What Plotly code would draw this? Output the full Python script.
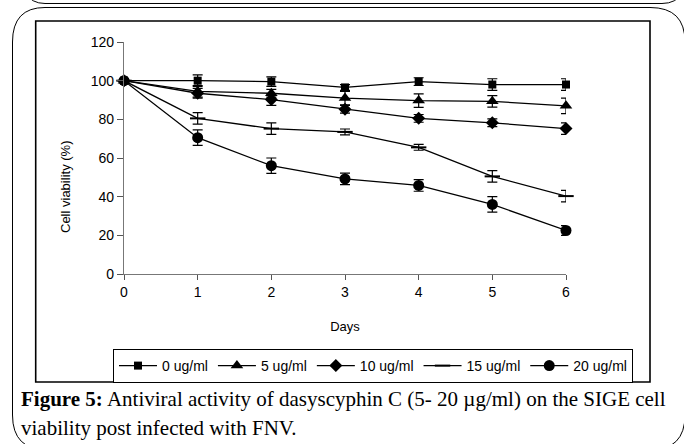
import plotly.graph_objects as go

days = [0, 1, 2, 3, 4, 5, 6]
series_names = ["0 ug/ml", "5 ug/ml", "10 ug/ml", "15 ug/ml", "20 ug/ml"]
v0 = [100, 100, 99.5, 96.5, 99.5, 98, 98]
v5 = [100, 94.5, 93.5, 91, 89.7, 89.3, 87]
v10 = [100, 93.5, 90.2, 85.2, 80.5, 78.2, 75.2]
v15 = [100, 80.5, 75.2, 73.5, 65.5, 50.5, 40.3]
v20 = [100, 70.5, 56, 49.2, 45.8, 36, 22.5]
e0 = [1, 3, 2.5, 1.5, 2, 3, 3]
e5 = [1, 3, 2, 3.5, 3.5, 3, 4]
e10 = [1, 2.5, 3, 2, 2, 2, 3]
e15 = [1, 3, 3, 1.5, 1.5, 3, 3]
e20 = [1, 4, 4, 3, 3, 4, 2.5]
values = [v0, v5, v10, v15, v20]
errors = [e0, e5, e10, e15, e20]
symbols = ["square", "triangle-up", "diamond", "line-ew", "circle"]
sizes = [8, 11, 10, 11, 11]

# plot area in pixels
L, R, T, B = 124, 566, 42, 274
W, H = 684, 444


def fx(x):
    return (x - L) / (R - L)


def fy(y):
    return (B - y) / (B - T)


fig = go.Figure()
for name, v, e, s, sz in zip(series_names, values, errors, symbols, sizes):
    fig.add_trace(go.Scatter(
        x=days, y=v, name=name, mode="lines+markers",
        line=dict(color="black", width=1.3),
        marker=dict(symbol=s, size=sz, color="black",
                    line=dict(color="black", width=2 if s == "line-ew" else 0)),
        error_y=dict(type="data", array=e, visible=True, color="black",
                     thickness=1.2, width=5),
        cliponaxis=False,
    ))

font = dict(family="Liberation Sans, Arial", size=14, color="black")

fig.update_layout(
    width=W, height=H, autosize=False,
    margin=dict(l=L, r=W - R, t=T, b=H - B, pad=0),
    paper_bgcolor="white", plot_bgcolor="white",
    font=font,
    showlegend=True,
    legend=dict(orientation="h", x=fx(113), y=fy(349), xanchor="left", yanchor="top",
                bordercolor="black", borderwidth=1, font=dict(family="Liberation Sans, Arial", size=14),
                itemwidth=38, tracegroupgap=0, bgcolor="white"),
    xaxis=dict(range=[0, 6], tickmode="array", tickvals=days, ticks="outside", ticklen=5,
               tickcolor="#555", showline=True, linecolor="#777", linewidth=1.3,
               showgrid=False, zeroline=False, tickfont=font,
               title=dict(text="Days", font=dict(family="Liberation Sans, Arial", size=13), standoff=22)),
    yaxis=dict(range=[0, 120], tickmode="array", tickvals=[0, 20, 40, 60, 80, 100, 120],
               ticks="outside", ticklen=6, tickcolor="#555", showline=True, linecolor="#777",
               linewidth=1.3, showgrid=False, zeroline=False, tickfont=font),
)

fig.add_annotation(xref="paper", yref="paper", x=fx(65), y=fy(187), xanchor="center", yanchor="middle",
                   textangle=-90, showarrow=False, text="Cell viability (%)",
                   font=dict(family="Liberation Sans, Arial", size=13, color="black"))

shapes = []
# chart border rectangle
shapes.append(dict(type="rect", xref="paper", yref="paper",
                   x0=fx(35.7), x1=fx(650), y0=fy(21), y1=fy(382),
                   line=dict(color="black", width=1.6), layer="below"))


def path(points_cmds):
    out = []
    for cmd, pts in points_cmds:
        coords = " ".join(f"{fx(px):.5f},{fy(py):.5f}" for px, py in pts)
        out.append(f"{cmd}{coords}")
    return " ".join(out)


main_panel = path([
    ("M", [(47.5, 450)]),
    ("Q", [(12.5, 450), (12.5, 415)]),
    ("L", [(12.5, 42)]),
    ("Q", [(12.5, 7.5), (45, 7.5)]),
    ("L", [(650, 7.5)]),
    ("Q", [(685, 7.5), (685, 42)]),
    ("L", [(685, 415)]),
    ("Q", [(685, 450), (650, 450)]),
])
shapes.append(dict(type="path", xref="paper", yref="paper", path=main_panel,
                   line=dict(color="black", width=1), layer="below"))

top_panel = path([
    ("M", [(18, -40)]),
    ("Q", [(18, 3.5), (45, 3.5)]),
    ("L", [(662, 3.5)]),
    ("Q", [(690, 3.5), (690, -40)]),
])
shapes.append(dict(type="path", xref="paper", yref="paper", path=top_panel,
                   line=dict(color="black", width=1), layer="below"))

fig.update_layout(shapes=shapes)

cap_font = dict(family="Liberation Serif, Times New Roman", size=21, color="black")
fig.add_annotation(xref="paper", yref="paper", x=fx(19), y=fy(399), xanchor="left", yanchor="middle",
                   showarrow=False, font=cap_font,
                   text="<b>Figure 5:</b> Antiviral activity of dasyscyphin C (5- 20 \u00b5g/ml) on the SIGE cell")
fig.add_annotation(xref="paper", yref="paper", x=fx(19), y=fy(428), xanchor="left", yanchor="middle",
                   showarrow=False, font=cap_font,
                   text="viability post infected with FNV.")

fig.write_html("out.html", config={"displayModeBar": False},
               post_script="document.body.style.margin='0';document.body.style.overflow='hidden';")
